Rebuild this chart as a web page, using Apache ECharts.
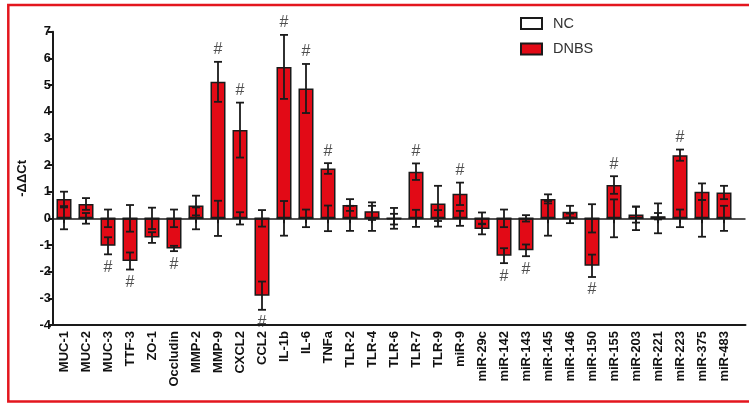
<!DOCTYPE html>
<html>
<head>
<meta charset="utf-8">
<script src="https://cdn.jsdelivr.net/npm/echarts@6/dist/echarts.min.js"></script>
<style>
  html, body { margin: 0; padding: 0; background: #fff; }
  #chart { width: 749px; height: 404px; }
</style>
</head>
<body>
<div id="chart"></div>
<script>
// Gene / miRNA targets on the x axis
const categories = ['MUC-1','MUC-2','MUC-3','TTF-3','ZO-1','Occludin','MMP-2','MMP-9','CXCL2','CCL2',
  'IL-1b','IL-6','TNFa','TLR-2','TLR-4','TLR-6','TLR-7','TLR-9','miR-9','miR-29c','miR-142','miR-143',
  'miR-145','miR-146','miR-150','miR-155','miR-203','miR-221','miR-223','miR-375','miR-483'];

// NC group: normalised to 0, with its spread
const ncMean = [0,0,0,0,0,0,0,0,0,0,0,0,0,0,0,0,0,0,0,0,0,0,0,0,0,0,0,0,0,0,0];
const ncErr = [0.41,0.20,0.33,0.50,0.40,0.33,0.41,0.66,0.23,0.31,0.65,0.33,0.48,0.47,0.47,0.39,
  0.32,0.31,0.28,0.22,0.33,0.12,0.65,0.18,0.53,0.71,0.44,0.56,0.33,0.69,0.47];

// DNBS group: -ddCt means and spread
const dnbsMean = [0.73,0.54,-1.03,-1.60,-0.72,-1.13,0.48,5.12,3.31,-2.90,5.68,4.87,1.87,0.50,0.27,-0.03,
  1.75,0.56,0.92,-0.40,-1.40,-1.20,0.73,0.25,-1.78,1.25,0.14,0.08,2.37,1.00,0.97];
const dnbsErr = [0.27,0.22,0.32,0.32,0.20,0.10,0.37,0.75,1.03,0.53,1.20,0.92,0.20,0.22,0.33,0.20,
  0.31,0.66,0.42,0.20,0.28,0.22,0.17,0.22,0.42,0.33,0.30,0.12,0.21,0.31,0.25];

// Significance marks (#): 'up' above the bar, 'down' below it
const sig = ['','','down','down','','down','','up','up','down','up','up','up','','','',
  'up','','up','','down','down','','','down','up','','','up','',''];

const yTicks = { min: -4, max: 7, interval: 1 };

const FONT = '"Liberation Sans", Arial, Helvetica, sans-serif';
const INK = '#1a1a1a';
const RED = '#e20a16';

function errorBars(params, api) {
  const x = api.value(0);
  const lo = api.coord([x, api.value(1)]);
  const hi = api.coord([x, api.value(2)]);
  const w = 4;
  const style = { stroke: INK, lineWidth: 1.8 };
  return {
    type: 'group',
    children: [
      { type: 'line', shape: { x1: lo[0], y1: lo[1], x2: hi[0], y2: hi[1] }, style },
      { type: 'line', shape: { x1: lo[0] - w, y1: lo[1], x2: lo[0] + w, y2: lo[1] }, style },
      { type: 'line', shape: { x1: hi[0] - w, y1: hi[1], x2: hi[0] + w, y2: hi[1] }, style }
    ]
  };
}

const ncErrData = categories.map((c, i) => [i, ncMean[i] - ncErr[i], ncMean[i] + ncErr[i]]);
const dnbsErrData = categories.map((c, i) => [i, dnbsMean[i] - dnbsErr[i], dnbsMean[i] + dnbsErr[i]]);

const hashData = [];
sig.forEach((s, i) => {
  if (!s) return;
  const up = s === 'up';
  hashData.push({
    value: [i, up ? dnbsMean[i] + dnbsErr[i] : dnbsMean[i] - dnbsErr[i]],
    label: { position: up ? 'top' : 'bottom', distance: up ? 4 : 5 }
  });
});

const chart = echarts.init(document.getElementById('chart'), null, { renderer: 'canvas' });

chart.setOption({
  animation: false,
  backgroundColor: '#fff',
  textStyle: { fontFamily: FONT },
  graphic: [{
    type: 'rect',
    shape: { x: 8.3, y: 5, width: 745, height: 396.5 },
    style: { fill: 'none', stroke: '#e3161e', lineWidth: 2.5 },
    silent: true
  }],
  legend: {
    data: [{ name: 'NC', icon: 'rect' }, { name: 'DNBS', icon: 'rect' }],
    orient: 'vertical',
    left: 520,
    top: 16,
    padding: 0,
    itemWidth: 21,
    itemHeight: 11,
    itemGap: 10.5,
    textStyle: { fontFamily: FONT, fontSize: 14.5, color: '#333', padding: [0, 0, 0, 6] }
  },
  grid: [
    { left: 53, top: 31.7, width: 682, height: 293.3 },
    { left: 53, top: 31.7, width: 692.5, height: 293.3 }
  ],
  xAxis: [
    {
      type: 'category',
      gridIndex: 0,
      data: categories,
      boundaryGap: true,
      axisLine: { show: false },
      axisTick: { show: true, alignWithLabel: true, length: 5, lineStyle: { color: INK, width: 2 } },
      axisLabel: { rotate: 90, interval: 0, margin: 6, fontFamily: FONT, fontSize: 13, fontWeight: 'bold', color: '#111' },
      splitLine: { show: false }
    },
    {
      type: 'value',
      gridIndex: 1,
      min: 0, max: 1,
      position: 'bottom',
      axisLine: { show: true, onZero: false, lineStyle: { color: INK, width: 2 } },
      axisTick: { show: false },
      axisLabel: { show: false },
      splitLine: { show: false }
    }
  ],
  yAxis: [
    {
      type: 'value',
      gridIndex: 0,
      min: yTicks.min, max: yTicks.max, interval: yTicks.interval,
      name: '-ΔΔCt',
      nameLocation: 'middle',
      nameGap: 24,
      nameMoveOverlap: false,
      nameTextStyle: { fontFamily: FONT, fontSize: 13, fontWeight: 'bold', color: '#111' },
      axisLine: { show: true, onZero: false, lineStyle: { color: INK, width: 2 } },
      axisTick: { show: true, length: 5, lineStyle: { color: INK, width: 2 } },
      axisLabel: { margin: 2, fontFamily: FONT, fontSize: 13, fontWeight: 'bold', color: '#111' },
      splitLine: { show: false }
    },
    {
      type: 'value',
      gridIndex: 1,
      min: yTicks.min, max: yTicks.max,
      show: false,
      splitLine: { show: false }
    }
  ],
  series: [
    {
      // zero baseline across the plot
      type: 'line',
      xAxisIndex: 1, yAxisIndex: 1,
      data: [],
      z: 1,
      silent: true,
      markLine: {
        silent: true,
        symbol: 'none',
        label: { show: false },
        lineStyle: { color: INK, width: 1.6, type: 'solid' },
        data: [{ yAxis: 0 }]
      }
    },
    {
      name: 'NC',
      type: 'bar',
      xAxisIndex: 0, yAxisIndex: 0,
      data: ncMean,
      barWidth: 15,
      barGap: '-100%',
      z: 2,
      itemStyle: { color: '#fff', borderColor: INK, borderWidth: 1.5 }
    },
    {
      name: 'DNBS',
      type: 'bar',
      xAxisIndex: 0, yAxisIndex: 0,
      data: dnbsMean,
      barWidth: 15,
      barGap: '-100%',
      z: 3,
      itemStyle: { color: RED, borderColor: INK, borderWidth: 1.5 }
    },
    {
      type: 'custom',
      xAxisIndex: 0, yAxisIndex: 0,
      renderItem: errorBars,
      data: ncErrData,
      encode: { x: 0, y: [1, 2] },
      z: 4,
      silent: true
    },
    {
      type: 'custom',
      xAxisIndex: 0, yAxisIndex: 0,
      renderItem: errorBars,
      data: dnbsErrData,
      encode: { x: 0, y: [1, 2] },
      z: 4,
      silent: true
    },
    {
      type: 'scatter',
      xAxisIndex: 0, yAxisIndex: 0,
      symbolSize: 0,
      data: hashData,
      z: 5,
      silent: true,
      label: { show: true, formatter: '#', fontFamily: FONT, fontSize: 16, color: '#222' }
    }
  ]
});
</script>
</body>
</html>
